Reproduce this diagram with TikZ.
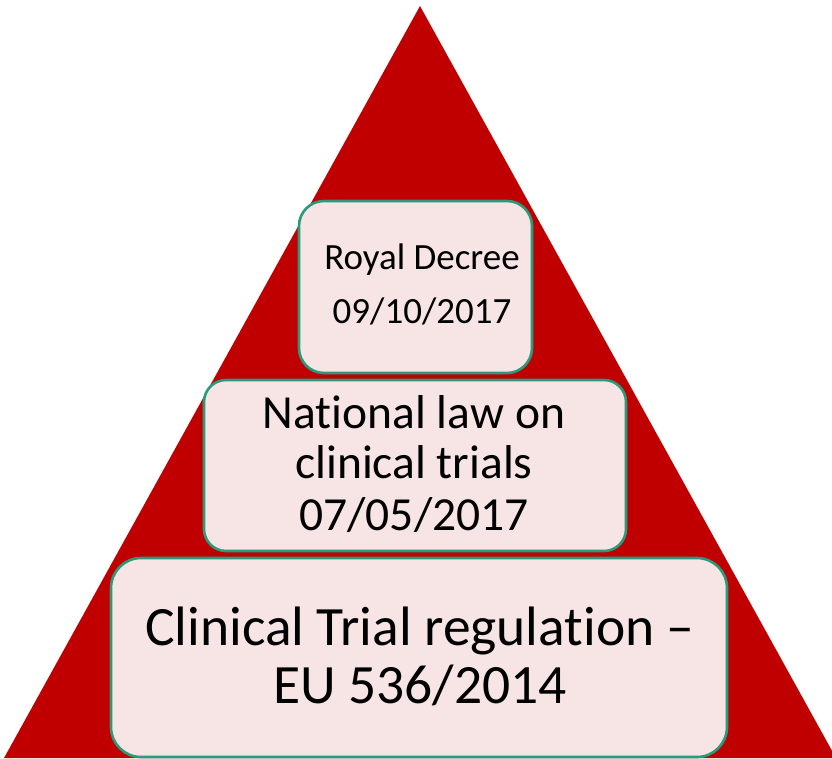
\documentclass[tikz,border=0pt]{standalone}
\usepackage{fontspec}
\setmainfont[Ligatures=NoCommon]{Carlito}
\definecolor{tri}{HTML}{C00000}
\definecolor{boxfill}{HTML}{F7E4E4}
\definecolor{boxline}{HTML}{2A9A7A}
\begin{document}
\begin{tikzpicture}[x=1pt,y=-1pt,
  lvl/.style={fill=boxfill,draw=boxline,line width=2.6pt}]
\useasboundingbox (0,0) rectangle (832,758);
\begin{scope}
\clip (0,0) rectangle (832,758);
\fill[tri] (420,6) -- (4,758) -- (836,758) -- cycle;
% bottom box
\draw[lvl,rounded corners=30pt] (111,558) rectangle (727,757);
% middle box
\draw[lvl,rounded corners=22pt] (204,380) rectangle (626,551);
% top box
\draw[lvl,rounded corners=25pt] (299,201) rectangle (532,373);
\end{scope}
\node[anchor=base,font=\fontsize{37}{40}\selectfont] (rd) at (422,269) {Royal Decree};
\node[anchor=base,font=\fontsize{37}{40}\selectfont] (rdd) at (422,323) {09/10/2017};
\node[anchor=base,font=\fontsize{47.5}{51}\selectfont] (nl1) at (414,428) {National law on};
\node[anchor=base,font=\fontsize{47.5}{51}\selectfont] (nl2) at (414,478) {clinical trials};
\node[anchor=base,font=\fontsize{47.5}{51}\selectfont] (nl3) at (414,530) {07/05/2017};
\node[anchor=base,font=\fontsize{55.5}{60}\selectfont] (ct1) at (420,645) {Clinical Trial regulation –};
\node[anchor=base,font=\fontsize{55.5}{60}\selectfont] (ct2) at (420,703) {EU 536/2014};
\end{tikzpicture}
\end{document}
